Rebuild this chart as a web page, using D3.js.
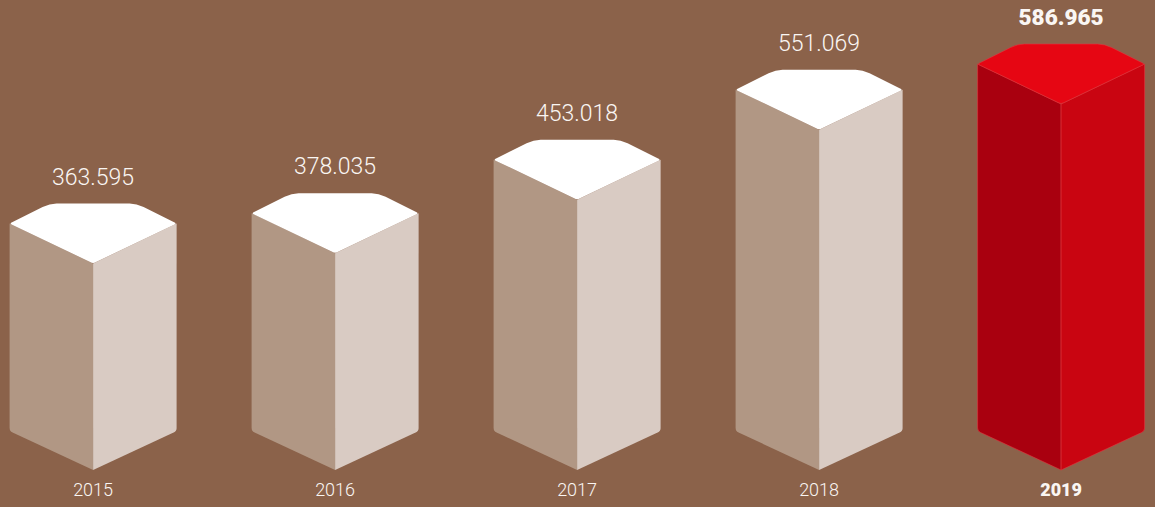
<!DOCTYPE html>
<html>
<head>
<meta charset="utf-8">
<script src="https://d3js.org/d3.v7.min.js"></script>
<style>
  html, body { margin: 0; padding: 0; background: #8b624a; overflow: hidden; }
  svg { display: block; }
  text { font-family: Roboto, sans-serif; text-anchor: middle; fill: #faf6f3; }
</style>
</head>
<body>
<div id="chart"></div>
<script>
// Chart values
var years = ["2015", "2016", "2017", "2018", "2019"];
var values = [363.595, 378.035, 453.018, 551.069, 586.965];
var valueLabels = ["363.595", "378.035", "453.018", "551.069", "586.965"];

var svgWidth = 1155;
var svgHeight = 507;

var svg = d3.select("#chart")
  .append("svg")
  .attr("width", svgWidth)
  .attr("height", svgHeight);

// One step is 242px, each column is 167px wide
var x = d3.scaleBand()
  .domain(years)
  .range([9.6, 1144.6])
  .paddingInner(75 / 242)
  .paddingOuter(0);

// y of the front corner of the lid
var y = d3.scaleLinear()
  .domain([363.595, 586.965])
  .range([263.5, 104]);

var w = x.bandwidth();
var bottomFront = 470;   // lowest point of the column
var skew = 40;           // how far the side corners sit above the front corner
var backDrop = 60;       // back edge of the lid above the front corner
var r = 7;               // corner rounding of the lid
var s = 3;               // smaller rounding at the side corners

var palette = {
  normal: { left: "#b19784", right: "#d9cbc3", top: "#ffffff", edge: "none" },
  highlight: { left: "#a9000f", right: "#c90511", top: "#e60613", edge: "#e2383f" }
};

function leftFace(l, front) {
  return `M${l},${front - skew} L${l + w / 2},${front} L${l + w / 2},${bottomFront}` +
    ` L${l + s},${bottomFront - 37.5} Q${l},${bottomFront - 39} ${l},${bottomFront - 39 - s} Z`;
}

function rightFace(l, front) {
  return `M${l + w},${front - skew} L${l + w / 2},${front} L${l + w / 2},${bottomFront}` +
    ` L${l + w - s},${bottomFront - 37.5} Q${l + w},${bottomFront - 39} ${l + w},${bottomFront - 39 - s} Z`;
}

// Lid: a flattened hexagon with its corners rounded off
function lid(l, front) {
  var side = front - skew;
  var back = front - backDrop;
  var a = l + 40;
  var b = l + w - 40;
  return `M${l + s},${side + s / 2} Q${l - 1},${side} ${l + s},${side - s / 2}` +
    ` L${a - r},${back + r / 2} Q${a},${back} ${a + r},${back}` +
    ` L${b - r},${back} Q${b},${back} ${b + r},${back + r / 2}` +
    ` L${l + w - s},${side - s / 2} Q${l + w + 1},${side} ${l + w - s},${side + s / 2}` +
    ` L${l + w / 2 + s},${front - s / 2} Q${l + w / 2},${front + 0.5} ${l + w / 2 - s},${front - s / 2} Z`;
}

var columns = svg.selectAll("g.column")
  .data(years)
  .enter()
  .append("g")
  .attr("class", "column");

columns.each(function (year, i) {
  var g = d3.select(this);
  var l = x(year);
  var front = y(values[i]);
  var last = i === years.length - 1;
  var colors = last ? palette.highlight : palette.normal;

  g.append("path").attr("d", leftFace(l, front))
    .attr("fill", colors.left).attr("stroke", colors.edge).attr("stroke-width", 0.6);
  g.append("path").attr("d", rightFace(l, front))
    .attr("fill", colors.right).attr("stroke", colors.edge).attr("stroke-width", 0.6);
  g.append("path").attr("d", lid(l, front))
    .attr("fill", colors.top).attr("stroke", colors.edge).attr("stroke-width", 0.6);

  g.append("text")
    .attr("x", l + w / 2)
    .attr("y", front - backDrop - 19)
    .style("font-size", last ? "22.5px" : "23px")
    .style("font-weight", last ? 900 : 300)
    .text(valueLabels[i]);

  g.append("text")
    .attr("x", l + w / 2)
    .attr("y", 496)
    .style("font-size", "18px")
    .style("font-weight", last ? 900 : 300)
    .text(year);
});
</script>
</body>
</html>
